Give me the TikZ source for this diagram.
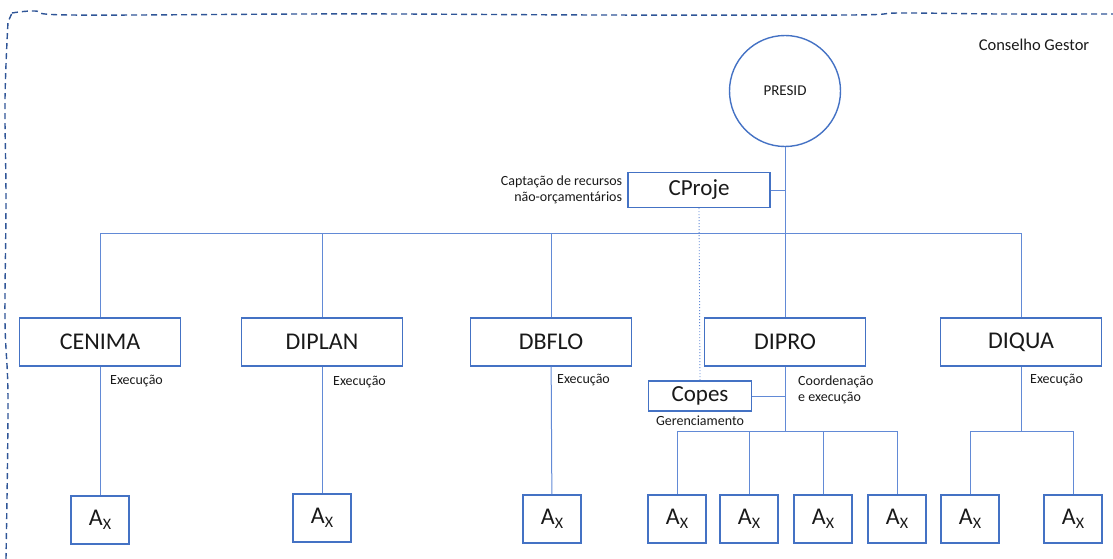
\documentclass[tikz,border=0pt]{standalone}
\usepackage{fontspec}
\setmainfont{Carlito}
\usetikzlibrary{positioning}

\definecolor{boxblue}{RGB}{68,114,196}
\definecolor{lineblue}{RGB}{98,138,214}
\definecolor{frameblue}{RGB}{47,85,151}
\definecolor{txtgray}{RGB}{25,25,25}

\newcommand{\axlabel}{A\raisebox{-0.35ex}{\fontsize{16}{16}\selectfont X}}

\begin{document}
\begin{tikzpicture}[x=1pt, y=-1pt]
		
		% Define basic styles
		\tikzset{
			unit/.style={
				rectangle, draw=boxblue, line width=1.4pt,
				minimum width=161pt, minimum height=48pt, inner sep=0pt,
				text=txtgray, font=\fontsize{24}{24}\selectfont
			},
			smallunit/.style={
				unit, minimum width=58pt
			},
			note/.style={
				text=txtgray, inner sep=0pt, align=left,
				font=\fontsize{14}{16}\selectfont
			},
			link/.style={
				draw=lineblue, line width=1pt
			},
			dotlink/.style={
				link, dotted, line width=0.9pt
			},
			frame/.style={
				draw=frameblue, line width=1.4pt, dash pattern=on 6pt off 4pt
			}
		}
		
		\useasboundingbox (0,0) rectangle (1113,559);
		
		% Council frame
		\draw[frame] plot[smooth, tension=0.6] coordinates {
			(6,559) (8,400) (5,320) (6,200) (5,100) (8,22)}
			-- (12,13) plot[smooth, tension=0.6] coordinates {
			(12,13) (35,11) (70,15) (300,14) (400,14) (600,15) (850,15)
			(900,13) (1000,14) (1113,14)};
		\node[text=txtgray, font=\fontsize{16.5}{18}\selectfont] (council) at (1034,45) {Conselho Gestor};
		
		% Nodes
		\node[circle, draw=boxblue, line width=1.4pt, minimum size=111pt, inner sep=0pt,
			text=txtgray, font=\fontsize{15}{15}\selectfont] (presid) at (785,91) {PRESID};
		\node[unit, minimum width=142pt, minimum height=35pt, font=\fontsize{23}{23}\selectfont] (cproje) at (699,190) {CProje};
		\node[note, align=right, left=5pt of cproje] (captacao) {Captação de recursos\\não-orçamentários};
		
		\node[unit] (cenima) at (100,342) {CENIMA};
		\node[unit] (diplan) at (322,342) {DIPLAN};
		\node[unit] (dbflo) at (551,342) {DBFLO};
		\node[unit] (dipro) at (785,342) {DIPRO};
		\node[unit] (diqua) at (1021,342) {DIQUA};
		
		\node[unit, minimum width=103pt, minimum height=30pt, font=\fontsize{23}{23}\selectfont] (copes) at (700,396) {Copes};
		\node[note, below=4pt of copes] (gerenc) {Gerenciamento};
		
		\node[note, anchor=west] (exec1) at (110,381) {Execução};
		\node[note, anchor=west] (exec2) at (333,382) {Execução};
		\node[note, anchor=west] (exec3) at (557,380) {Execução};
		\node[note, anchor=west] (exec5) at (1030,380) {Execução};
		\node[note, anchor=west] (coord) at (798,390) {Coordenação\\e execução};
		
		\node[smallunit] (ax1) at (100,520) {\axlabel};
		\node[smallunit] (ax2) at (322,518) {\axlabel};
		\node[smallunit] (ax3) at (552,519) {\axlabel};
		\node[smallunit] (ax4) at (677,519) {\axlabel};
		\node[smallunit] (ax5) at (749,519) {\axlabel};
		\node[smallunit] (ax6) at (823,519) {\axlabel};
		\node[smallunit] (ax7) at (897,519) {\axlabel};
		\node[smallunit] (ax8) at (970,519) {\axlabel};
		\node[smallunit] (ax9) at (1073,519) {\axlabel};
		
		% Connectors
		\coordinate (bus) at (0,233);
		\coordinate (subbus) at (0,431);
		\draw[link] (presid) -- (presid |- bus);
		\draw[link] (cproje) -- (cproje -| presid);
		\draw[link] (cenima) -- (cenima |- bus) -- (diqua |- bus) -- (diqua);
		\foreach \n in {diplan,dbflo,dipro}
			\draw[link] (\n) -- (\n |- bus);
		\draw[dotlink] (cproje.south) -- (copes.north);
		
		\draw[link] (cenima) -- (ax1);
		\draw[link] (diplan) -- (ax2);
		\draw[link] (dbflo) -- (ax3);
		
		\draw[link] (dipro) -- (dipro |- subbus);
		\draw[link] (copes) -- (copes -| dipro);
		\draw[link] (ax4) -- (ax4 |- subbus) -- (ax7 |- subbus) -- (ax7);
		\foreach \n in {ax5,ax6}
			\draw[link] (\n) -- (\n |- subbus);
		
		\draw[link] (diqua) -- (diqua |- subbus);
		\draw[link] (ax8) -- (ax8 |- subbus) -- (ax9 |- subbus) -- (ax9);
		
	\end{tikzpicture}
\end{document}
